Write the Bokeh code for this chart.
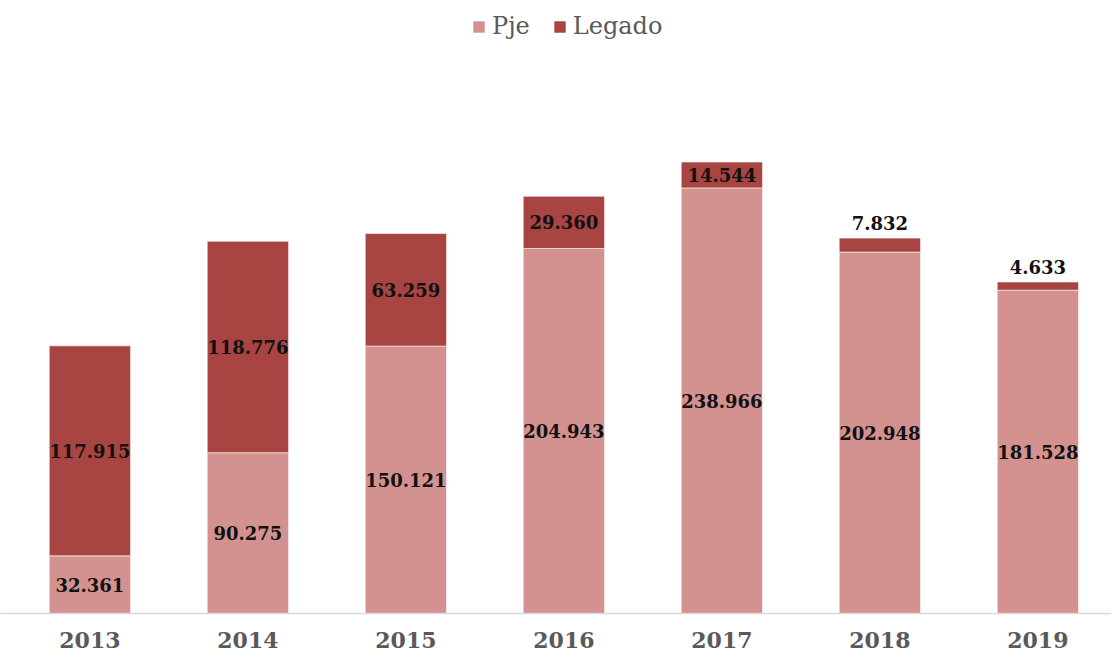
from bokeh.plotting import figure
from bokeh.models import ColumnDataSource, Range1d, FixedTicker, Legend, LegendItem
from bokeh.embed import file_html
from bokeh.resources import INLINE
from bokeh.core.properties import value

years = ["2013", "2014", "2015", "2016", "2017", "2018", "2019"]
pje = [32.361, 90.275, 150.121, 204.943, 238.966, 202.948, 181.528]
legado = [117.915, 118.776, 63.259, 29.360, 14.544, 7.832, 4.633]

PJE_COLOR = "#D39190"
LEG_COLOR = "#A84442"
FONT = "DejaVu Serif"

idx = list(range(len(years)))
src = ColumnDataSource(dict(x=idx, pje=pje, legado=legado))

p = figure(frame_width=1111, frame_height=613, output_backend="svg", toolbar_location=None,
           x_range=Range1d(-0.566, 6.466), y_range=Range1d(0, 344.2),
           min_border_left=0, min_border_right=0, min_border_top=0, min_border_bottom=43,
           y_axis_location=None)
p.outline_line_color = None
p.xgrid.visible = False
p.ygrid.visible = False
p.background_fill_color = "white"
p.border_fill_color = "white"

r = p.vbar_stack(["pje", "legado"], x="x", width=0.515, source=src,
                 color=[PJE_COLOR, LEG_COLOR], line_color="white", line_width=0.6)

# data labels
lx, ly, lt, loff, lbase = [], [], [], [], []
for i, (a, b) in enumerate(zip(pje, legado)):
    lx.append(i); ly.append(a / 2); lt.append(f"{a:.3f}"); loff.append(0); lbase.append("middle")
    if b >= 10:
        lx.append(i); ly.append(a + b / 2); lt.append(f"{b:.3f}"); loff.append(0); lbase.append("middle")
    else:
        lx.append(i); ly.append(a + b); lt.append(f"{b:.3f}"); loff.append(-8); lbase.append("bottom")
lsrc = ColumnDataSource(dict(x=lx, y=ly, t=lt, off=loff, base=lbase))
p.text(x="x", y="y", text="t", source=lsrc, y_offset="off", text_baseline="base",
       text_align="center", text_font=value(FONT), text_font_style="bold",
       text_font_size="18px", text_color="#111111")

ax = p.xaxis[0]
ax.ticker = FixedTicker(ticks=idx)
ax.major_label_overrides = {i: y for i, y in enumerate(years)}
ax.major_tick_line_color = None
ax.minor_tick_line_color = None
ax.axis_line_color = "#D9D9D9"
ax.axis_line_width = 1.5
ax.major_label_text_font = FONT
ax.major_label_text_font_style = "bold"
ax.major_label_text_font_size = "22px"
ax.major_label_text_color = "#595959"
ax.major_label_standoff = 12

legend = Legend(items=[LegendItem(label="Pje", renderers=[r[0]]),
                       LegendItem(label="Legado", renderers=[r[1]])],
                orientation="horizontal", location=(471, 573),
                label_text_font=FONT, label_text_font_size="24px", label_text_color="#595959",
                glyph_width=15, glyph_height=15, label_standoff=6, spacing=22,
                padding=4, margin=0, border_line_color=None, background_fill_alpha=0)
p.add_layout(legend)

open("out.html", "w").write(file_html(p, INLINE))
